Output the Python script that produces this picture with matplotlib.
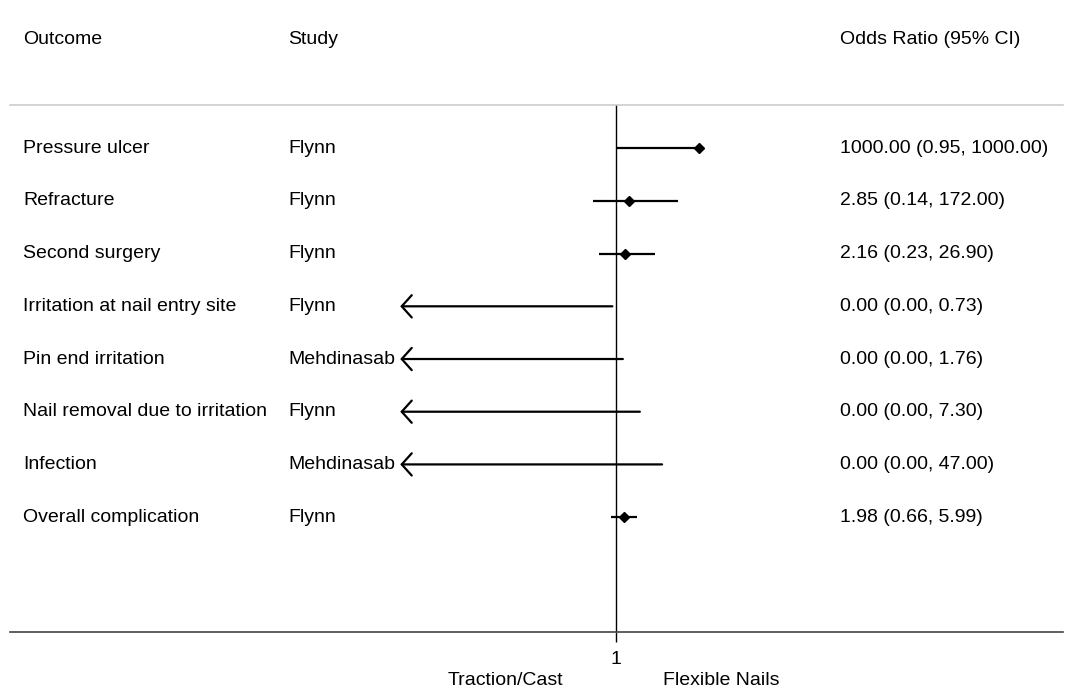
import numpy as np
import matplotlib
matplotlib.use('agg')
import matplotlib.pyplot as plt

#------------------------------------------------------------------------------
# DATA
#------------------------------------------------------------------------------
outcomes = ['Pressure ulcer', 'Refracture', 'Second surgery',
            'Irritation at nail entry site', 'Pin end irritation',
            'Nail removal due to irritation', 'Infection', 'Overall complication']
studies = ['Flynn', 'Flynn', 'Flynn', 'Flynn', 'Mehdinasab', 'Flynn', 'Mehdinasab', 'Flynn']
odds = [1000.00, 2.85, 2.16, 0.00, 0.00, 0.00, 0.00, 1.98]
lower = [0.95, 0.14, 0.23, 0.00, 0.00, 0.00, 0.00, 0.66]
upper = [1000.00, 172.00, 26.90, 0.73, 1.76, 7.30, 47.00, 5.99]

#------------------------------------------------------------------------------
# SETTINGS
#------------------------------------------------------------------------------
plt.rcParams['font.family'] = ['Liberation Sans', 'DejaVu Sans']
fontsize = 14
xmin, xmax = 10**-22.04, 10**16.25   # plot limits on log scale
arrow_tip = 10**-7.85                # where truncated CIs end

fig = plt.figure(figsize=(10.73, 6.94), dpi=100)
ax = fig.add_axes([10/1073, 62/694, 1053/1073, 527/694])
ax.set_xscale('log')
ax.set_xlim(xmin, xmax)
ax.set_ylim(len(outcomes) + 2.18, 0.18)

ax.axvline(1, color='black', lw=1, zorder=1)

for i in range(len(outcomes)):
    y = i + 1
    if lower[i] <= 0:
        ax.annotate('', xy=(arrow_tip, y), xytext=(upper[i], y),
                    arrowprops=dict(arrowstyle='->,head_length=0.36,head_width=0.4',
                                    color='black', lw=1.6, mutation_scale=20,
                                    shrinkA=0, shrinkB=0))
    else:
        ax.plot([lower[i], upper[i]], [y, y], color='black', lw=1.6, solid_capstyle='butt')
        ax.plot(odds[i], y, marker='D', color='black', markersize=5)
    ax.text(13/1053, y, outcomes[i], transform=ax.get_yaxis_transform(),
            va='center', ha='left', fontsize=fontsize)
    ax.text(278/1053, y, studies[i], transform=ax.get_yaxis_transform(),
            va='center', ha='left', fontsize=fontsize)
    ax.text(830/1053, y, '%.2f (%.2f, %.2f)' % (odds[i], lower[i], upper[i]),
            transform=ax.get_yaxis_transform(), va='center', ha='left', fontsize=fontsize)

# headers
fig.text(23/1073, 1 - 40/694, 'Outcome', va='center', ha='left', fontsize=fontsize)
fig.text(288/1073, 1 - 40/694, 'Study', va='center', ha='left', fontsize=fontsize)
fig.text(840/1073, 1 - 40/694, 'Odds Ratio (95% CI)', va='center', ha='left', fontsize=fontsize)

# axes styling
for s in ['left', 'right']:
    ax.spines[s].set_visible(False)
ax.spines['top'].set_color('#cccccc')
ax.spines['top'].set_linewidth(1.2)
ax.spines['bottom'].set_color('#444444')
ax.spines['bottom'].set_linewidth(1.2)
ax.set_yticks([])
ax.set_xticks([1])
ax.set_xticklabels(['1'])
ax.minorticks_off()
ax.tick_params(axis='x', direction='out', length=7, width=1, color='black',
               labelsize=fontsize, pad=7)

ax.text(495/1053, -0.092, 'Traction/Cast', transform=ax.transAxes,
        ha='center', va='center', fontsize=fontsize)
ax.text(711/1053, -0.092, 'Flexible Nails', transform=ax.transAxes,
        ha='center', va='center', fontsize=fontsize)

plt.savefig('out.png', dpi=100)
plt.close('all')
